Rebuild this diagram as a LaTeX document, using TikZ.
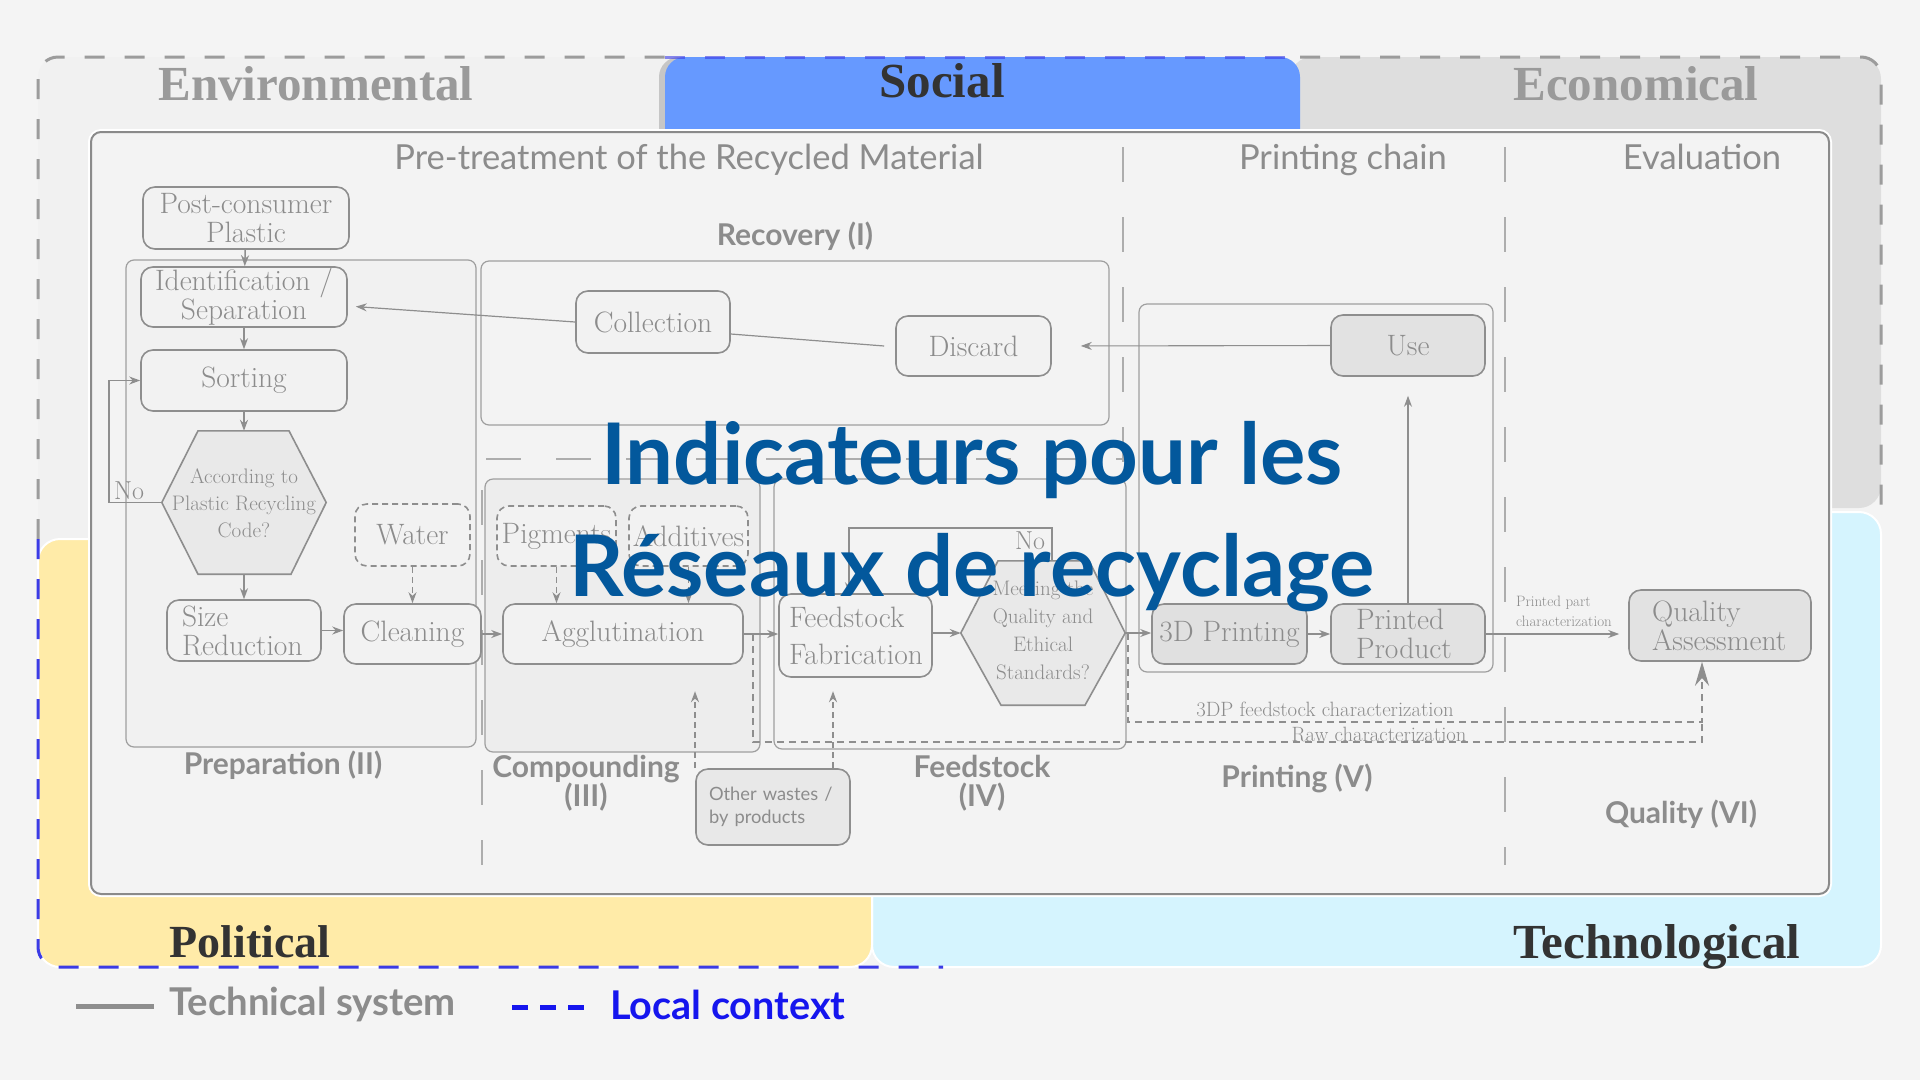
\documentclass[tikz,border=0pt]{standalone}
\usepackage{fontspec}
\usetikzlibrary{arrows.meta,calc}
\newfontfamily\latof{Lato}
\newfontfamily\headf{Liberation Serif}
\definecolor{pagebg}{HTML}{F4F4F4}
\definecolor{envbg}{HTML}{F1F1F1}
\definecolor{econbg}{HTML}{DEDEDE}
\definecolor{techbg}{HTML}{D5F4FE}
\definecolor{polbg}{HTML}{FFEBA8}
\definecolor{socialbg}{HTML}{6699FF}
\definecolor{shadowc}{HTML}{C6C6C6}
\definecolor{innerbg}{HTML}{F3F3F3}
\definecolor{framec}{HTML}{8A8A8A}
\definecolor{lc}{HTML}{8E8E8E}
\definecolor{tc}{HTML}{8C8C8C}
\definecolor{sepc}{HTML}{ADADAD}
\definecolor{gdashc}{HTML}{9C9C9C}
\definecolor{bdashc}{HTML}{3B3BE6}
\definecolor{titleblue}{HTML}{03589C}
\definecolor{localblue}{HTML}{1515EE}
\definecolor{darkhead}{HTML}{333333}
\definecolor{lighthead}{HTML}{9A9A9A}
\definecolor{nodefill}{HTML}{F2F2F2}
\definecolor{nodegray}{HTML}{E2E2E2}
\definecolor{hexfill}{HTML}{E9E9E9}
\newcommand\myNodeFont{\fontsize{29.5}{29}\selectfont}
\tikzset{
  pbox/.style={draw=lc, line width=1.6pt, rounded corners=12pt, fill=nodefill, text=tc, align=center, inner sep=0pt, font=\myNodeFont},
  dpbox/.style={pbox, dash pattern=on 6pt off 4pt},
  gpbox/.style={pbox, fill=nodegray},
  subframe/.style={draw=lc!85, line width=1.2pt, rounded corners=8pt},
  arr/.style={draw=lc, line width=1.5pt, -{Stealth[length=11pt,width=8pt]}},
  thinarr/.style={draw=lc, line width=1.1pt, -{Stealth[length=11pt,width=8pt]}},
  darr/.style={arr, dash pattern=on 6pt off 4pt},
  dline/.style={draw=lc, line width=1.5pt, dash pattern=on 7pt off 5pt},
  pline/.style={draw=lc, line width=1.5pt},
  sepline/.style={draw=sepc, line width=2.5pt, dash pattern=on 35pt off 35pt},
  gdash/.style={draw=gdashc, line width=3pt, dash pattern=on 20pt off 20pt},
  bdash/.style={draw=bdashc, line width=3pt, dash pattern=on 20pt off 20pt},
  headtext/.style={font=\headf\bfseries\fontsize{49}{52}\selectfont, anchor=base, inner sep=0pt},
  coltext/.style={font=\latof\fontsize{34.5}{38}\selectfont, text=tc, anchor=base, inner sep=0pt},
  sectext/.style={font=\latof\bfseries\fontsize{30}{29}\selectfont, text=tc, align=center, inner sep=0pt},
  hextext/.style={text=tc, align=center, inner sep=0pt, font=\fontsize{21}{27}\selectfont},
  hexshape/.style={draw=lc, line width=1.6pt, fill=hexfill},
  smalltext/.style={text=tc, inner sep=0pt, font=\fontsize{20.7}{22}\selectfont},
  titletext/.style={font=\latof\bfseries\fontsize{85}{100}\selectfont, text=titleblue, anchor=base, inner sep=0pt}
}
\begin{document}
\begin{tikzpicture}[x=1pt,y=-1pt]
\useasboundingbox (0,0) rectangle (1920,1080);
\fill[pagebg] (0,0) rectangle (1920,1080);

% ---------- context regions ----------
\fill[envbg, rounded corners=20pt] (38,57) rectangle (720,560);
\fill[econbg, rounded corners=22pt] (1290,57) rectangle (1881,508);
\filldraw[fill=techbg, draw=white, line width=2pt, rounded corners=22pt] (872,512) rectangle (1881,967);
\filldraw[fill=polbg, draw=white, line width=2pt, rounded corners=22pt] (38,539) rectangle (872,967);
\fill[shadowc] (659,130) [rounded corners=20pt] -- (659,57) -- (1296,57) [sharp corners] -- (1296,130) -- cycle;
\fill[socialbg] (665,129) [rounded corners=20pt] -- (665,57) -- (1300,57) [sharp corners] -- (1300,129) -- cycle;

% dashed outer frame
\draw[gdash, rounded corners=20pt] (38,539) -- (38,57) -- (665,57);
\draw[bdash, draw opacity=0.6] (665,57) -- (1300,57);
\draw[gdash, rounded corners=20pt] (1300,57) -- (1881,57) -- (1881,505);
\draw[bdash, rounded corners=20pt] (38,539) -- (38,967) -- (943,967);

% region headings
\node[headtext, text=lighthead] (envT) at (316,100) {Environmental};
\node[headtext, text=darkhead] (socT) at (942,97) {Social};
\node[headtext, text=lighthead] (ecoT) at (1636,100) {Economical};
\node[headtext, text=darkhead, font=\headf\bfseries\fontsize{46}{50}\selectfont] (polT) at (250,957) {Political};
\node[headtext, text=darkhead] (tecT) at (1657,958) {Technological};

% ---------- technical system box ----------
\draw[white, line width=6pt, rounded corners=10pt] (91,132) rectangle (1829,894);
\filldraw[fill=innerbg, draw=framec, line width=2pt, rounded corners=10pt] (91,132) rectangle (1829,894);

% column headers
\node[coltext] (colA) at (689,169) {Pre-treatment of the Recycled Material};
\node[coltext] (colB) at (1343,169) {Printing chain};
\node[coltext] (colC) at (1702,169) {Evaluation};

% separators
\draw[sepline] (1123,147) -- (1123,480);
\draw[sepline] (1505,147) -- (1505,865);
\draw[sepline] (482,490) -- (482,865);
\draw[sepline] (486,459) -- (1123,459);

% sub-process frames
\filldraw[subframe, fill=envbg] (126,260) rectangle (476,747);
\draw[subframe] (481,261) rectangle (1109,425);
\filldraw[subframe, fill=black!7] (485,479) rectangle (760,752);
\draw[subframe] (774,479) rectangle (1126,749);
\draw[subframe] (1139,304) rectangle (1493,672);

% section labels
\node[sectext] (secI) at (795,236) {Recovery (I)};
\node[sectext] (secII) at (283,765) {Preparation (II)};
\node[sectext] (secIII) at (586,783) {Compounding\\(III)};
\node[sectext] (secIV) at (982,783) {Feedstock\\(IV)};
\node[sectext] (secV) at (1297,778) {Printing (V)};
\node[sectext] (secVI) at (1681,814) {Quality (VI)};

% ---------- nodes ----------
\node[pbox, minimum width=206pt, minimum height=62pt] (pc) at (246,218) {Post-consumer\\Plastic};
\node[pbox, minimum width=206pt, minimum height=60pt] (ids) at (244,297) {Identification /\\Separation};
\node[pbox, minimum width=206pt, minimum height=61pt] (sort) at (244,380.5) {Sorting};

\node[minimum width=164pt, minimum height=143pt, inner sep=0pt] (hex1) at (244,502.5) {};
\filldraw[hexshape] (hex1.west) -- ([xshift=-46pt]hex1.north) -- ([xshift=45pt]hex1.north) -- (hex1.east) -- ([xshift=47pt]hex1.south) -- ([xshift=-46pt]hex1.south) -- cycle;
\node[hextext] (hex1t) at (244,503) {According to\\Plastic Recycling\\Code?};

\node[pbox, minimum width=154pt, minimum height=61pt, align=left, text width=124pt] (size) at (244,630.5) {Size\\Reduction};
\node[dpbox, minimum width=115pt, minimum height=62pt] (water) at (412.5,535) {Water};
\node[pbox, minimum width=137pt, minimum height=60pt] (clean) at (412.5,634) {Cleaning};

\node[pbox, minimum width=154pt, minimum height=62pt] (coll) at (653,322) {Collection};
\node[pbox, minimum width=155pt, minimum height=60pt] (disc) at (973.5,346) {Discard};
\node[gpbox, minimum width=154pt, minimum height=61pt] (use) at (1408,345.5) {Use};

\node[dpbox, minimum width=119pt, minimum height=60pt] (pig) at (556.5,536) {Pigments};
\node[dpbox, minimum width=119pt, minimum height=60pt] (add) at (688.5,536) {Additives};
\node[pbox, minimum width=240pt, minimum height=60pt] (agg) at (623,634) {Agglutination};

\node[pbox, minimum width=153pt, minimum height=83pt, align=left, text width=133pt, font=\fontsize{29.5}{37}\selectfont] (ff) at (855.5,635.5) {Feedstock\\Fabrication};

\node[minimum width=164pt, minimum height=144pt, inner sep=0pt] (hex2) at (1043,633) {};
\filldraw[hexshape] (hex2.west) -- ([xshift=-45pt]hex2.north) -- ([xshift=46pt]hex2.north) -- (hex2.east) -- ([xshift=42pt]hex2.south) -- ([xshift=-42pt]hex2.south) -- cycle;
\node[hextext, font=\fontsize{21}{28}\selectfont] (hex2t) at (1043,630) {Meeting the\\Quality and\\Ethical\\Standards?};

\node[gpbox, fill=black!12, minimum width=155pt, minimum height=60pt] (p3d) at (1229.5,634) {3D Printing};
\node[gpbox, minimum width=154pt, minimum height=60pt, align=left, text width=104pt] (pp) at (1408,634) {Printed\\Product};
\node[gpbox, minimum width=182pt, minimum height=71pt, align=left, text width=136pt] (qa) at (1720,625.5) {Quality\\Assessment};

\node[pbox, fill=black!9, minimum width=154pt, minimum height=76pt, align=left, text width=128pt, font=\latof\fontsize{18.3}{23}\selectfont] (ow) at (773,807) {Other wastes /\\by products};

% ---------- connectors ----------
\draw[arr] (pc) -- (ids);
\draw[arr] (ids) -- (sort);
\draw[arr] (sort) -- (hex1.north);
\draw[arr] (hex1.south) -- (size.north);
\draw[arr] (hex1.west) -- ++(-53,0) |- (sort.west);
\node[smalltext, font=\fontsize{26}{26}\selectfont] (no1) at (129,491) {No};
\draw[arr] (size.east) -- (size.east -| clean.west);
\draw[darr] (water) -- (clean);
\draw[arr] (clean.east) -- (clean.east -| agg.west);
\draw[darr] (pig.south) -- (pig.south |- agg.north);
\draw[darr] (add.south) -- (add.south |- agg.north);
\draw[arr] (agg.east) -- (agg.east -| ff.west);
\draw[darr] ([xshift=-78pt]ow.north) -- ++(0,-77);
\draw[darr] ([xshift=60pt]ow.north) -- ++(0,-77);
\draw[arr] (ff.east |- hex2.west) -- (hex2.west);
\draw[arr] ([xshift=9pt]hex2.north) -- ++(0,-33) -| ([xshift=-6.5pt]ff.north);
\node[smalltext, font=\fontsize{26}{26}\selectfont] (no2) at (1030,541) {No};
\draw[arr] (hex2.east) -- (hex2.east -| p3d.west);
\draw[arr] (p3d.east) -- (pp.west);
\draw[thinarr, shorten >=19pt] (pp.north) -- (use.south);
\draw[thinarr, shorten >=29pt] (use.west) -- (disc.east);
\draw[pline, line width=1.2pt] ([xshift=-11pt]disc.west) -- ([yshift=-12pt]coll.east);
\draw[arr, line width=1.2pt, shorten >=8pt] (coll.west) -- ([yshift=-9pt]ids.east);
\draw[thinarr, shorten >=9pt] (pp.east) -- (pp.east -| qa.west);
\node[smalltext, font=\fontsize{15}{20}\selectfont, align=left, anchor=west] (ppc) at (1516,611) {Printed part\\characterization};

% characterization dashed paths
\coordinate (c3) at (1702,722);
\draw[dline] ([xshift=9pt]agg.east) |- (1702,742) -- (c3);
\draw[dline, -{Stealth[length=24pt,width=14pt]}] ([xshift=3pt]hex2.east) |- (c3) -- ([xshift=-18pt]qa.south);
\node[smalltext] (lbl3dp) at (1325,709) {3DP feedstock characterization};
\node[smalltext] (lblraw) at (1379,734) {Raw characterization};

% ---------- legend ----------
\draw[draw=lc, line width=5pt] (76,1006) coordinate (lg1) -- (154,1006) coordinate (lg2);
\node[font=\latof\bfseries\fontsize{38.3}{40}\selectfont, text=tc, anchor=base west, inner sep=0pt] (legT) at (169,1015) {Technical system};
\draw[draw=localblue, line width=5pt, dash pattern=on 16pt off 12pt] (512,1007) coordinate (lg3) -- (584,1007) coordinate (lg4);
\node[font=\latof\bfseries\fontsize{39.6}{42}\selectfont, text=localblue, anchor=base west, inner sep=0pt] (legL) at (610,1019) {Local context};

% ---------- title ----------
\node[titletext] (title1) at (972,484) {Indicateurs pour les};
\node[titletext] (title2) at (972,596) {Réseaux de recyclage};
\end{tikzpicture}
\end{document}
